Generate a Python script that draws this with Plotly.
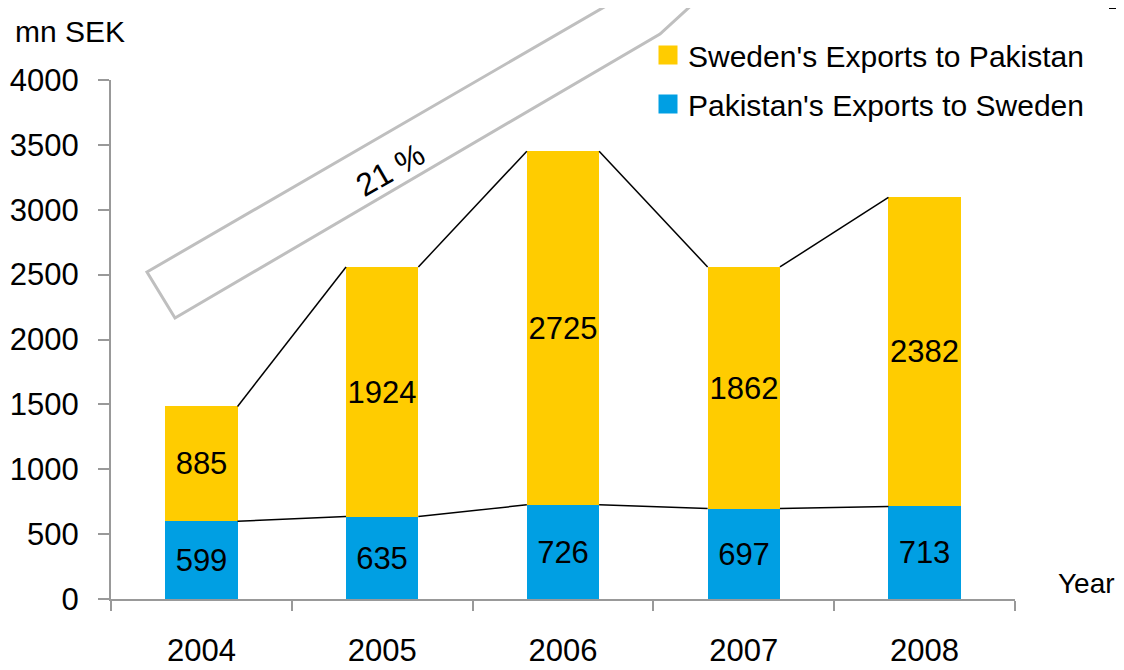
import plotly.graph_objects as go

years = ["2004", "2005", "2006", "2007", "2008"]
pak_to_swe = [599, 635, 726, 697, 713]
swe_to_pak = [885, 1924, 2725, 1862, 2382]
y_ticks = [0, 500, 1000, 1500, 2000, 2500, 3000, 3500, 4000]
growth_label = "21 %"

YELLOW = "#FFCC00"
BLUE = "#009FE3"
FONT = "Liberation Sans, Arial, sans-serif"
FS_TICK = 31
FS_BAR = 31
FS_LEG = 30

pos = list(range(len(years)))
totals = [a + b for a, b in zip(pak_to_swe, swe_to_pak)]
BW = 0.4

# page has an 8px body margin; figure sized to fit the window
OFF = 8
W, H = 1124 - OFF, 670 - OFF
# plot area in window pixels
L, R, T, B = 111, 1015, 80, 599


def px(x):
    return (x - L) / (R - L)


def py(y):
    return (B - y) / (B - T)


fig = go.Figure()
for vals, name, col in ((pak_to_swe, "Pakistan's Exports to Sweden", BLUE),
                        (swe_to_pak, "Sweden's Exports to Pakistan", YELLOW)):
    fig.add_trace(go.Bar(
        x=pos, y=vals, width=BW, name=name,
        marker=dict(color=col, line=dict(width=0)),
        text=[str(v) for v in vals], textposition="inside",
        insidetextanchor="middle", textangle=0, constraintext="none",
        textfont=dict(family=FONT, size=FS_BAR, color="black"),
        showlegend=False, hoverinfo="skip",
    ))


def series_line(vals):
    xs, ys = [], []
    for i in range(len(vals) - 1):
        xs += [pos[i] + BW / 2, pos[i + 1] - BW / 2, None]
        ys += [vals[i], vals[i + 1], None]
    return xs, ys


for vals in (pak_to_swe, totals):
    xs, ys = series_line(vals)
    fig.add_trace(go.Scatter(x=xs, y=ys, mode="lines",
                             line=dict(color="black", width=1.5),
                             showlegend=False, hoverinfo="skip"))

# legend entries
fig.add_trace(go.Scatter(x=[None], y=[None], mode="markers",
                         name="Sweden's Exports to Pakistan", legendgroup="a",
                         marker=dict(symbol="square", size=16, color=YELLOW,
                                     line=dict(color=YELLOW, width=3))))
fig.add_trace(go.Scatter(x=[None], y=[None], mode="markers",
                         name="Pakistan's Exports to Sweden", legendgroup="b",
                         marker=dict(symbol="square", size=16, color=BLUE,
                                     line=dict(color=BLUE, width=3))))

# arrow outline (growth arrow)
A = (147, 272); Bp = (175, 318); C = (660, 34)
path_pts = [A, (668, -30), (730, -30), C, Bp]
path = "M " + " L ".join(f"{px(x):.4f},{py(y):.4f}" for x, y in path_pts) + " Z"
fig.add_shape(type="path", xref="paper", yref="paper", path=path,
              line=dict(color="#BFBFBF", width=3), fillcolor="rgba(0,0,0,0)",
              layer="below")
# corner fragment top-right
corner = f"M {px(1110):.4f},{py(-5):.4f} L {px(1110):.4f},{py(8):.4f} L {px(1130):.4f},{py(8):.4f}"
fig.add_shape(type="path", xref="paper", yref="paper", path=corner,
              line=dict(color="black", width=2))

for txt, x, y, size, ang in ((growth_label, 390, 170, 32, -30),
                             ("mn SEK", 70, 31, 30, 0),
                             ("Year", 1086, 583, 28, 0)):
    fig.add_annotation(x=px(x), y=py(y), xref="paper", yref="paper",
                       xanchor="center", yanchor="middle",
                       text=txt, showarrow=False, textangle=ang,
                       font=dict(family=FONT, size=size, color="black"))

fig.update_layout(
    width=W, height=H,
    margin=dict(l=L - OFF, r=W - (R - OFF), t=T - OFF, b=H - (B - OFF),
                pad=0, autoexpand=False),
    paper_bgcolor="white", plot_bgcolor="white",
    barmode="stack", bargap=0,
    font=dict(family=FONT, size=FS_TICK, color="black"),
    legend=dict(x=px(648), y=py(29), xanchor="left", yanchor="top",
                bgcolor="rgba(0,0,0,0)", borderwidth=0,
                font=dict(family=FONT, size=FS_LEG, color="black"),
                traceorder="grouped", tracegroupgap=7),
    xaxis=dict(
        range=[-0.5, len(years) - 0.5], tickmode="array", tickvals=pos,
        ticktext=years, ticks="", showgrid=False, zeroline=False,
        showline=True, linecolor="#999999", linewidth=2, automargin=False,
        ticklabelstandoff=23,
        tickfont=dict(family=FONT, size=FS_TICK, color="black"),
        minor=dict(tickmode="array",
                   tickvals=[p - 0.5 for p in pos] + [pos[-1] + 0.5],
                   ticks="outside", ticklen=10, tickcolor="#999999",
                   tickwidth=2, showgrid=False),
    ),
    yaxis=dict(
        range=[0, 4000], tickmode="array", tickvals=y_ticks,
        ticktext=[str(v) for v in y_ticks], ticks="outside", ticklen=11,
        tickcolor="#999999", tickwidth=2, showgrid=False, zeroline=False,
        showline=True, linecolor="#999999", linewidth=2, automargin=False,
        ticklabelstandoff=13,
        tickfont=dict(family=FONT, size=FS_TICK, color="black"),
    ),
    showlegend=True,
)

fig.write_html("out.html")
